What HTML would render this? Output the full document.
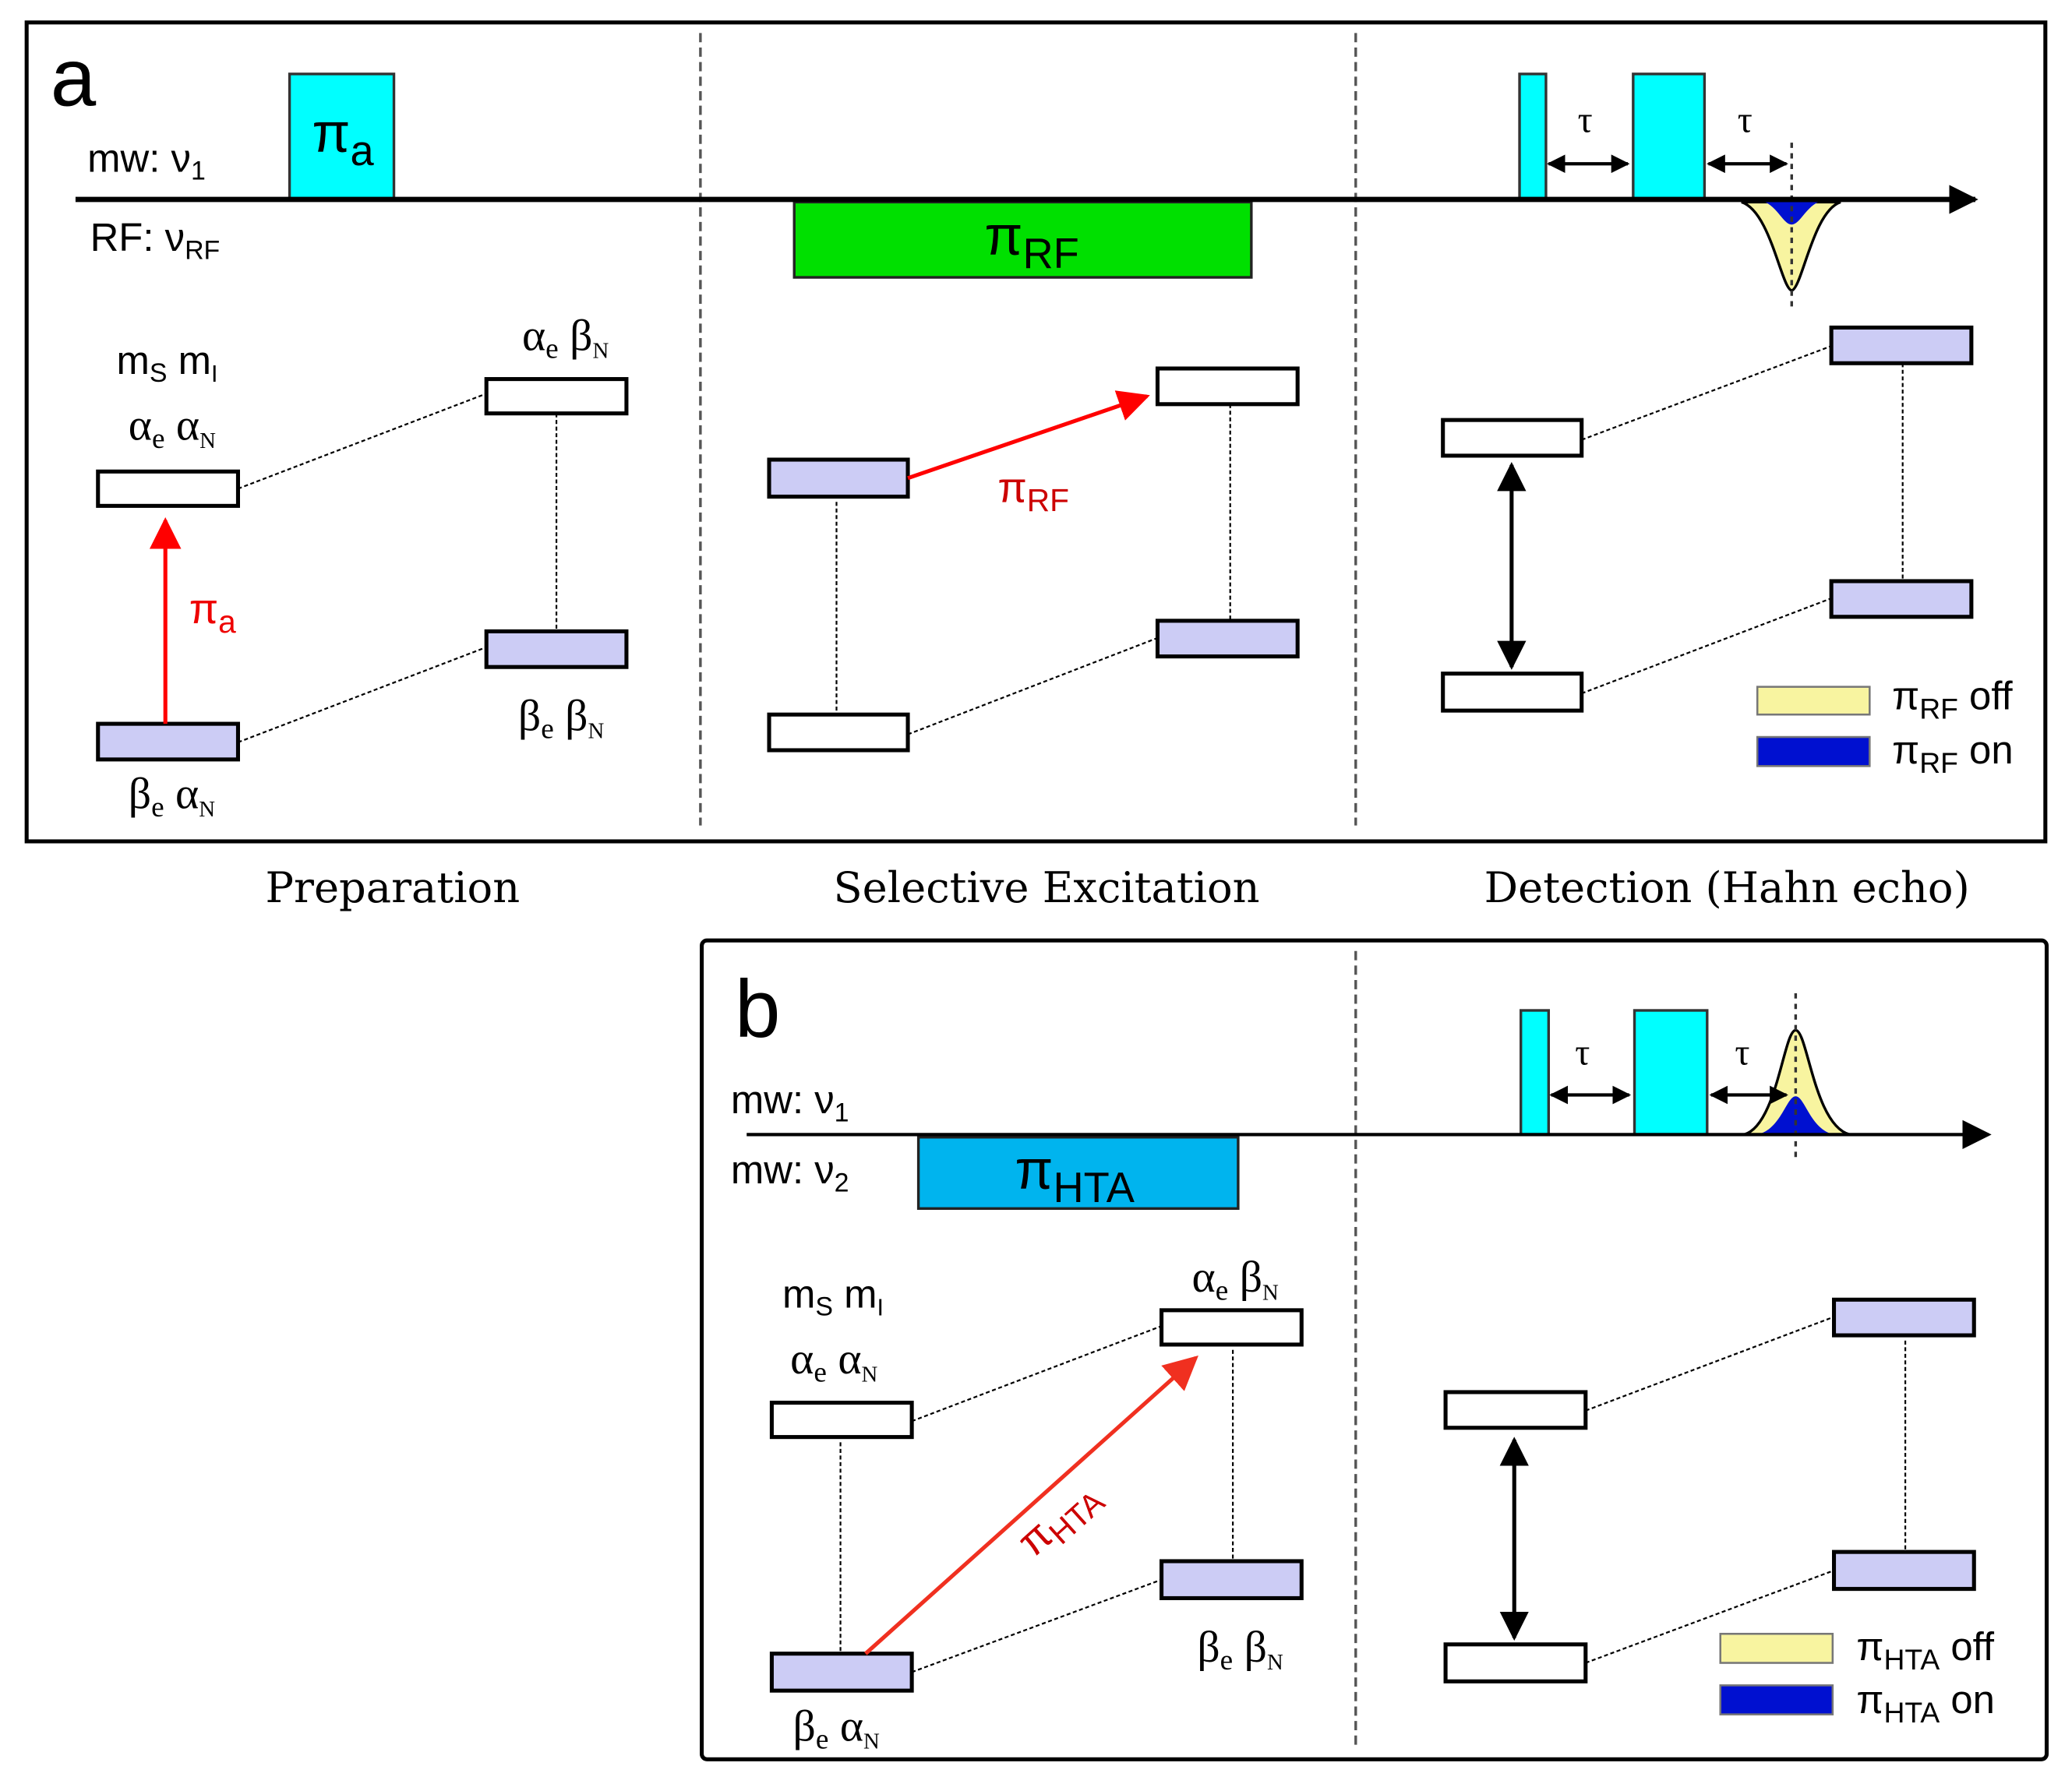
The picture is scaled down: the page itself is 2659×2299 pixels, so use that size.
<!DOCTYPE html>
<html><head><style>html,body{margin:0;padding:0;background:#fff}svg{display:block}</style></head>
<body>
<svg width="2659" height="2299" viewBox="0 0 1568 1356" xmlns="http://www.w3.org/2000/svg" font-family="Liberation Sans, sans-serif">
<defs>
<marker id="bk" viewBox="0 0 10 10" markerWidth="22" markerHeight="22" refX="9" refY="5" orient="auto-start-reverse" markerUnits="userSpaceOnUse"><path d="M0,0 L10,5 L0,10 z" fill="#000"/></marker>
<marker id="sm" viewBox="0 0 10 10" markerWidth="14" markerHeight="14" refX="9" refY="5" orient="auto-start-reverse" markerUnits="userSpaceOnUse"><path d="M0,0 L10,5 L0,10 z" fill="#000"/></marker>
<marker id="rd" viewBox="0 0 10 10" markerWidth="24" markerHeight="24" refX="9" refY="5" orient="auto" markerUnits="userSpaceOnUse"><path d="M0,0 L10,5 L0,10 z" fill="#f00"/></marker>
<marker id="rd2" viewBox="0 0 10 10" markerWidth="26" markerHeight="26" refX="9" refY="5" orient="auto" markerUnits="userSpaceOnUse"><path d="M0,0 L10,5 L0,10 z" fill="#f03020"/></marker>
</defs>

<rect x="20" y="17" width="1528" height="620" fill="none" stroke="#000" stroke-width="3"/>
<line x1="530" y1="25" x2="530" y2="625" stroke="#555" stroke-width="2" stroke-dasharray="7,4"/>
<line x1="1026" y1="25" x2="1026" y2="625" stroke="#555" stroke-width="2" stroke-dasharray="7,4"/>
<text x="38" y="80" font-size="62">a</text>
<text x="66" y="130" font-size="30">mw: ν<tspan font-size="20" dy="6">1</tspan></text>
<text x="68" y="190" font-size="30">RF: ν<tspan font-size="20" dy="6">RF</tspan></text>
<rect x="219" y="56" width="79" height="95" fill="#00ffff" stroke="#333" stroke-width="2"/>
<text x="236" y="115" font-size="42">π<tspan font-size="32" dy="10">a</tspan></text>
<rect x="601" y="153" width="346" height="57" fill="#00e000" stroke="#222" stroke-width="2"/>
<text x="745" y="193" font-size="42">π<tspan font-size="32" dy="10">RF</tspan></text>
<rect x="1150" y="56" width="20" height="95" fill="#00ffff" stroke="#333" stroke-width="2"/>
<rect x="1236" y="56" width="54" height="95" fill="#00ffff" stroke="#333" stroke-width="2"/>
<path d="M1318,153 C1340,160 1348,218 1356,220 C1364,218 1372,160 1393,153 Z" fill="#f8f4a0" stroke="#000" stroke-width="2"/>
<path d="M1336,153 C1346,158 1350,170 1356,170 C1362,170 1366,158 1376,153 Z" fill="#0010d0"/>
<line x1="1356" y1="108" x2="1356" y2="235" stroke="#333" stroke-width="2" stroke-dasharray="4,4"/>
<line x1="57" y1="151" x2="1495" y2="151" stroke="#000" stroke-width="4" marker-end="url(#bk)"/>
<line x1="1172" y1="124" x2="1232" y2="124" stroke="#000" stroke-width="2.5" marker-start="url(#sm)" marker-end="url(#sm)"/>
<line x1="1293" y1="124" x2="1352" y2="124" stroke="#000" stroke-width="2.5" marker-start="url(#sm)" marker-end="url(#sm)"/>
<text x="1194" y="100" font-size="28" font-family="Liberation Serif, serif">τ</text>
<text x="1315" y="100" font-size="28" font-family="Liberation Serif, serif">τ</text>

<g stroke="#000" stroke-width="1.3" stroke-dasharray="3,2">
<line x1="180" y1="370" x2="368" y2="298"/><line x1="180" y1="562" x2="368" y2="490"/>
<line x1="421" y1="313" x2="421" y2="478"/>
<line x1="633" y1="380" x2="633" y2="538"/><line x1="931" y1="306" x2="931" y2="470"/>
<line x1="687" y1="556" x2="876" y2="483"/>
<line x1="1197" y1="333" x2="1386" y2="262"/><line x1="1197" y1="525" x2="1386" y2="453"/>
<line x1="1440" y1="275" x2="1440" y2="440"/>
</g>
<g stroke="#000" stroke-width="3">
<rect x="74" y="357" width="106" height="26" fill="#fff"/>
<rect x="74" y="548" width="106" height="27" fill="#ccccf5"/>
<rect x="368" y="287" width="106" height="26" fill="#fff"/>
<rect x="368" y="478" width="106" height="27" fill="#ccccf5"/>
<rect x="582" y="348" width="105" height="28" fill="#ccccf5"/>
<rect x="582" y="541" width="105" height="27" fill="#fff"/>
<rect x="876" y="279" width="106" height="27" fill="#fff"/>
<rect x="876" y="470" width="106" height="27" fill="#ccccf5"/>
<rect x="1092" y="318" width="105" height="27" fill="#fff"/>
<rect x="1092" y="510" width="105" height="28" fill="#fff"/>
<rect x="1386" y="248" width="106" height="27" fill="#ccccf5"/>
<rect x="1386" y="440" width="106" height="27" fill="#ccccf5"/>
</g>
<line x1="125" y1="548" x2="125" y2="394" stroke="#f00" stroke-width="3" marker-end="url(#rd)"/>
<text x="143" y="472" font-size="32" fill="#e00">π<tspan font-size="24" dy="7">a</tspan></text>
<line x1="687" y1="362" x2="868" y2="300" stroke="#f00" stroke-width="3" marker-end="url(#rd)"/>
<text x="755" y="380" font-size="32" fill="#c00">π<tspan font-size="24" dy="7">RF</tspan></text>
<line x1="1144" y1="352" x2="1144" y2="505" stroke="#000" stroke-width="3" marker-start="url(#bk)" marker-end="url(#bk)"/>
<g font-family="Liberation Serif, serif" font-size="34">
<text x="88" y="283" font-family="Liberation Sans, sans-serif" font-size="30">m<tspan font-size="20" dy="6">S</tspan><tspan dy="-6"> m</tspan><tspan font-size="18" dy="6">I</tspan></text>
<text x="97" y="333">α<tspan font-size="22" dy="6">e</tspan><tspan dy="-6"> α</tspan><tspan font-size="17" dy="6">N</tspan></text>
<text x="395" y="265">α<tspan font-size="22" dy="6">e</tspan><tspan dy="-6"> β</tspan><tspan font-size="17" dy="6">N</tspan></text>
<text x="392" y="553">β<tspan font-size="22" dy="6">e</tspan><tspan dy="-6"> β</tspan><tspan font-size="17" dy="6">N</tspan></text>
<text x="97" y="612">β<tspan font-size="22" dy="6">e</tspan><tspan dy="-6"> α</tspan><tspan font-size="17" dy="6">N</tspan></text>
</g>
<rect x="1330" y="520" width="85" height="21" fill="#f8f4a0" stroke="#777" stroke-width="1.5"/>
<rect x="1330" y="558" width="85" height="22" fill="#0010d0" stroke="#777" stroke-width="1.5"/>
<text x="1432" y="537" font-size="30">π<tspan font-size="22" dy="7">RF</tspan><tspan dy="-7"> off</tspan></text>
<text x="1432" y="578" font-size="30">π<tspan font-size="22" dy="7">RF</tspan><tspan dy="-7"> on</tspan></text>

<g font-family="DejaVu Serif, serif" font-size="32" text-anchor="middle">
<text x="297" y="683">Preparation</text>
<text x="792" y="683">Selective Excitation</text>
<text x="1307" y="683">Detection (Hahn echo)</text>
</g>

<rect x="531" y="712" width="1018" height="620" rx="4" fill="none" stroke="#000" stroke-width="3"/>
<line x1="1026" y1="720" x2="1026" y2="1325" stroke="#555" stroke-width="2" stroke-dasharray="7,4"/>
<text x="556" y="785" font-size="62">b</text>
<text x="553" y="843" font-size="30">mw: ν<tspan font-size="20" dy="6">1</tspan></text>
<text x="553" y="896" font-size="30">mw: ν<tspan font-size="20" dy="6">2</tspan></text>
<rect x="695" y="861" width="242" height="54" fill="#00b4ee" stroke="#222" stroke-width="2"/>
<text x="768" y="900" font-size="42">π<tspan font-size="32" dy="10">HTA</tspan></text>
<rect x="1151" y="765" width="21" height="94" fill="#00ffff" stroke="#333" stroke-width="2"/>
<rect x="1237" y="765" width="55" height="94" fill="#00ffff" stroke="#333" stroke-width="2"/>
<path d="M1320,859 C1345,852 1350,780 1359,780 C1368,780 1373,852 1400,859 Z" fill="#f8f4a0" stroke="#000" stroke-width="2"/>
<path d="M1330,859 C1348,855 1352,830 1359,830 C1366,830 1370,855 1388,859 Z" fill="#0010d0"/>
<line x1="1359" y1="752" x2="1359" y2="880" stroke="#333" stroke-width="2" stroke-dasharray="4,4"/>
<line x1="565" y1="859" x2="1505" y2="859" stroke="#000" stroke-width="2.5" marker-end="url(#bk)"/>
<line x1="1174" y1="829" x2="1233" y2="829" stroke="#000" stroke-width="2.5" marker-start="url(#sm)" marker-end="url(#sm)"/>
<line x1="1295" y1="829" x2="1352" y2="829" stroke="#000" stroke-width="2.5" marker-start="url(#sm)" marker-end="url(#sm)"/>
<text x="1192" y="806" font-size="28" font-family="Liberation Serif, serif">τ</text>
<text x="1313" y="806" font-size="28" font-family="Liberation Serif, serif">τ</text>

<g stroke="#000" stroke-width="1.3" stroke-dasharray="3,2">
<line x1="690" y1="1076" x2="879" y2="1004"/><line x1="690" y1="1266" x2="879" y2="1196"/>
<line x1="636" y1="1092" x2="636" y2="1250"/><line x1="933" y1="1022" x2="933" y2="1180"/>
<line x1="1200" y1="1068" x2="1388" y2="997"/><line x1="1200" y1="1259" x2="1388" y2="1189"/>
<line x1="1442" y1="1015" x2="1442" y2="1173"/>
</g>
<g stroke="#000" stroke-width="3">
<rect x="584" y="1062" width="106" height="26" fill="#fff"/>
<rect x="584" y="1252" width="106" height="28" fill="#ccccf5"/>
<rect x="879" y="992" width="106" height="26" fill="#fff"/>
<rect x="879" y="1182" width="106" height="28" fill="#ccccf5"/>
<rect x="1094" y="1054" width="106" height="27" fill="#fff"/>
<rect x="1094" y="1245" width="106" height="28" fill="#fff"/>
<rect x="1388" y="984" width="106" height="27" fill="#ccccf5"/>
<rect x="1388" y="1175" width="106" height="28" fill="#ccccf5"/>
</g>
<line x1="655" y1="1252" x2="905" y2="1028" stroke="#f03020" stroke-width="3" marker-end="url(#rd2)"/>
<text x="0" y="0" font-size="32" fill="#c00" transform="translate(782,1180) rotate(-42)">π<tspan font-size="24" dy="7">HTA</tspan></text>
<line x1="1146" y1="1090" x2="1146" y2="1240" stroke="#000" stroke-width="3" marker-start="url(#bk)" marker-end="url(#bk)"/>
<g font-family="Liberation Serif, serif" font-size="34">
<text x="592" y="990" font-family="Liberation Sans, sans-serif" font-size="30">m<tspan font-size="20" dy="6">S</tspan><tspan dy="-6"> m</tspan><tspan font-size="18" dy="6">I</tspan></text>
<text x="598" y="1040">α<tspan font-size="22" dy="6">e</tspan><tspan dy="-6"> α</tspan><tspan font-size="17" dy="6">N</tspan></text>
<text x="902" y="978">α<tspan font-size="22" dy="6">e</tspan><tspan dy="-6"> β</tspan><tspan font-size="17" dy="6">N</tspan></text>
<text x="906" y="1258">β<tspan font-size="22" dy="6">e</tspan><tspan dy="-6"> β</tspan><tspan font-size="17" dy="6">N</tspan></text>
<text x="600" y="1318">β<tspan font-size="22" dy="6">e</tspan><tspan dy="-6"> α</tspan><tspan font-size="17" dy="6">N</tspan></text>
</g>
<rect x="1302" y="1237" width="85" height="22" fill="#f8f4a0" stroke="#777" stroke-width="1.5"/>
<rect x="1302" y="1276" width="85" height="22" fill="#0010d0" stroke="#777" stroke-width="1.5"/>
<text x="1405" y="1257" font-size="30">π<tspan font-size="22" dy="7">HTA</tspan><tspan dy="-7"> off</tspan></text>
<text x="1405" y="1297" font-size="30">π<tspan font-size="22" dy="7">HTA</tspan><tspan dy="-7"> on</tspan></text>
</svg>
</body></html>
